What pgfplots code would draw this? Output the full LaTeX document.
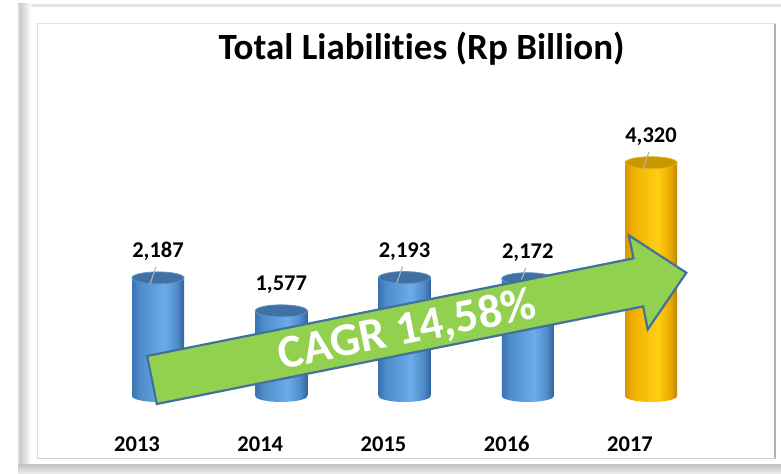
\documentclass[border=0pt]{standalone}
\usepackage{pgfplots}
\pgfplotsset{compat=1.18}
\usepackage{fontspec}
\setmainfont{Carlito}[Ligatures=NoCommon]

\definecolor{cbD}{RGB}{56,114,178}
\definecolor{cbA}{RGB}{78,140,202}
\definecolor{cbL}{RGB}{108,172,234}
\definecolor{cbB}{RGB}{80,140,202}
\definecolor{cbE}{RGB}{50,100,158}
\definecolor{cbTop}{RGB}{64,112,164}
\definecolor{cbRim}{RGB}{95,145,200}
\definecolor{cgD}{RGB}{214,150,0}
\definecolor{cgA}{RGB}{240,176,0}
\definecolor{cgL}{RGB}{255,206,20}
\definecolor{cgB}{RGB}{236,172,0}
\definecolor{cgE}{RGB}{190,132,0}
\definecolor{cgTop}{RGB}{200,152,0}
\definecolor{cgRim}{RGB}{228,178,20}
\definecolor{arrowgreen}{RGB}{146,208,80}
\definecolor{arrowblue}{RGB}{65,113,156}

\pgfdeclarehorizontalshading{cylblue}{100bp}{color(0bp)=(cbD); color(25bp)=(cbD); color(32.5bp)=(cbA); color(56bp)=(cbL); color(68bp)=(cbB); color(75bp)=(cbE); color(100bp)=(cbE)}
\pgfdeclarehorizontalshading{cylgold}{100bp}{color(0bp)=(cgD); color(25bp)=(cgD); color(32.5bp)=(cgA); color(56bp)=(cgL); color(68bp)=(cgB); color(75bp)=(cgE); color(100bp)=(cgE)}

\pgfdeclareplotmark{cbotblue}{\pgfpathellipse{\pgfpointorigin}{\pgfqpoint{26bp}{0pt}}{\pgfqpoint{0pt}{6bp}}\pgfshadepath{cylblue}{0}\pgfusepath{discard}}
\pgfdeclareplotmark{cbotgold}{\pgfpathellipse{\pgfpointorigin}{\pgfqpoint{26bp}{0pt}}{\pgfqpoint{0pt}{6bp}}\pgfshadepath{cylgold}{0}\pgfusepath{discard}}
\pgfdeclareplotmark{ctop}{\pgfpathellipse{\pgfpointorigin}{\pgfqpoint{26bp}{0pt}}{\pgfqpoint{0pt}{6bp}}\pgfusepathqfillstroke}

\newcommand{\lblfont}{\fontsize{22.5bp}{26bp}\selectfont\bfseries}

\usetikzlibrary{calc}
\pgfplotsset{
  cylbar/.style={ybar, bar width=52bp, bar shift=0pt, draw=none, shade, shading=#1},
  vlabel/.style={point meta=explicit symbolic, nodes near coords,
    every node near coord/.append style={anchor=base, yshift=20bp, font=\lblfont, text=black}},
  leader/.style={every node near coord/.append style={
    append after command={($(\tikzlastnode.base)+(-2bp,-9bp)$) edge[draw=gray!60, line width=1.1bp] ++(-6bp,-17bp)}}},
}

\begin{document}
\begin{tikzpicture}[x=1bp,y=1bp]
\useasboundingbox (0,0) rectangle (781,474);
\fill[white] (0,0) rectangle (781,474);
% frame
\fill[gray!22] (18,467) rectangle (781,470);
\shade[left color=gray!50, right color=white] (18,0) rectangle (31,470);
\fill[gray!30] (18,0) rectangle (20,470);
\shade[top color=gray!45, bottom color=gray!15] (18,0) rectangle (781,9);
\draw[gray!25, line width=1bp] (37,15) rectangle (775,450);
\draw[gray!60, line width=1.6bp] (775,15) -- (775,450);
\draw[gray!40, line width=1bp] (37,15) -- (775,15);

\begin{axis}[
  at={(96.4bp,78bp)}, anchor=south west,
  scale only axis, width=616.25bp, height=270bp,
  xmin=-0.5, xmax=4.5, ymin=0, ymax=5000,
  clip=false,
  axis line style={draw=none}, tick style={draw=none},
  ytick=\empty,
  xtick={0,1,2,3,4},
  xticklabels={2013,2014,2015,2016,2017},
  xticklabel style={font=\lblfont, anchor=base, yshift=-56bp, xshift=-21bp},
]
\addplot[only marks, mark=cbotblue] coordinates {(0,0) (1,0) (2,0) (3,0)};
\addplot[only marks, mark=cbotgold] coordinates {(4,0)};
\addplot[cylbar=cylblue] coordinates {(0,2187)};
\addplot[cylbar=cylblue] coordinates {(1,1577)};
\addplot[cylbar=cylblue] coordinates {(2,2193)};
\addplot[cylbar=cylblue] coordinates {(3,2172)};
\addplot[cylbar=cylgold] coordinates {(4,4320)};
\addplot[only marks, mark=ctop, mark options={fill=cbTop, draw=cbRim, line width=0.8bp}, vlabel, leader]
  coordinates {(0,2187) [2{,}187] (2,2193) [2{,}193] (3,2172) [2{,}172]};
\addplot[only marks, mark=ctop, mark options={fill=cbTop, draw=cbRim, line width=0.8bp}, vlabel]
  coordinates {(1,1577) [1{,}577]};
\addplot[only marks, mark=ctop, mark options={fill=cgTop, draw=cgRim, line width=0.8bp}, vlabel, leader]
  coordinates {(4,4320) [4{,}320]};
\end{axis}

\node[anchor=base, font=\fontsize{37bp}{40bp}\selectfont\bfseries] at (421.5,414) {Total Liabilities (Rp Billion)};

\begin{scope}[shift={(152,94)}, rotate=11.35]
\draw[fill=arrowgreen, draw=arrowblue, line width=2.2bp, line join=miter]
  (0,24.5) -- (496,24.5) -- (496,48) -- (545,0) -- (496,-48) -- (496,-24.5) -- (0,-24.5) -- cycle;
\node[transform shape, anchor=base, text=white, font=\fontsize{47bp}{50bp}\selectfont\bfseries, inner sep=0pt]
  at (260,-15) {CAGR 14,58\%};
\end{scope}
\end{tikzpicture}
\end{document}
